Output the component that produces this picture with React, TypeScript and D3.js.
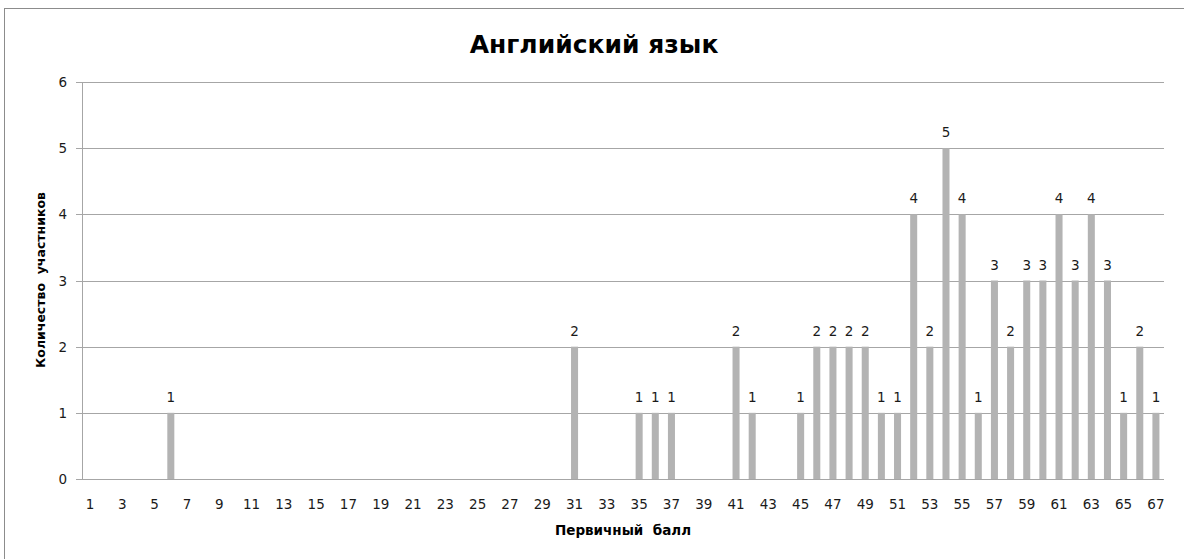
import React from "react";
import * as d3 from "d3";

const categories: number[] = d3.range(1, 68);
const scoreKeys: number[] = [6, 31, 35, 36, 37, 41, 42, 45, 46, 47, 48, 49, 50, 51, 52, 53, 54, 55, 56, 57, 58, 59, 60, 61, 62, 63, 64, 65, 66, 67];
const scoreCounts: number[] = [1, 2, 1, 1, 1, 2, 1, 1, 2, 2, 2, 2, 1, 1, 4, 2, 5, 4, 1, 3, 2, 3, 3, 4, 3, 4, 3, 1, 2, 1];
const yTicks: number[] = [0, 1, 2, 3, 4, 5, 6];
const title = "Английский язык";
const xTitle = "Первичный  балл";
const yTitle = "Количество  участников";

const W = 1184;
const H = 559;
const L = 82, R = 1164, T = 82, B = 479;
const font = "'DejaVu Sans', Verdana, sans-serif";

export default function App() {
  const countMap = new Map<number, number>();
  scoreKeys.forEach((k, i) => countMap.set(k, scoreCounts[i]));
  const data = categories.map((c) => ({ c, v: countMap.get(c) ?? 0 }));

  const x = d3.scaleBand<number>().domain(categories).range([L, R]).paddingInner(0.565).paddingOuter(0.2825);
  const y = d3.scaleLinear().domain([0, 6]).range([B, T]);

  return (
    <svg width={W} height={H} style={{ position: "absolute", left: 0, top: 0, background: "#fff" }}>
      <rect x={4.5} y={8.5} width={W + 20} height={H + 20} fill="#fff" stroke="#8c8c8c" strokeWidth={1} />
      <text x={594} y={53} textAnchor="middle" fontFamily={font} fontWeight="bold" fontSize={25} fill="#000">{title}</text>
      {yTicks.map((t) => (
        <g key={t}>
          <line x1={76} x2={R} y1={Math.round(y(t)) + 0.5} y2={Math.round(y(t)) + 0.5} stroke="#a6a6a6" strokeWidth={1} />
          <text x={67} y={y(t) + 5} textAnchor="end" fontFamily={font} fontSize={13.5} fill="#1a1a1a">{t}</text>
        </g>
      ))}
      <line x1={L + 0.5} x2={L + 0.5} y1={T} y2={B + 1} stroke="#a6a6a6" strokeWidth={1} />
      {data.filter((d) => d.v > 0).map((d) => (
        <g key={d.c}>
          <rect x={x(d.c)!} y={y(d.v)} width={x.bandwidth()} height={B - y(d.v)} fill="#b3b3b3" />
          <text x={x(d.c)! + x.bandwidth() / 2} y={y(d.v) - 11} textAnchor="middle" fontFamily={font} fontSize={13.5} fill="#1a1a1a">{d.v}</text>
        </g>
      ))}
      {categories.filter((c) => c % 2 === 1).map((c) => (
        <text key={c} x={x(c)! + x.bandwidth() / 2} y={509} textAnchor="middle" fontFamily={font} fontSize={13.5} fill="#1a1a1a">{c}</text>
      ))}
      <text x={(L + R) / 2} y={535} textAnchor="middle" fontFamily={font} fontWeight="bold" fontSize={13.5} fill="#000" style={{ whiteSpace: "pre" }}>{xTitle}</text>
      <text transform={`translate(45,${280}) rotate(-90)`} textAnchor="middle" fontFamily={font} fontWeight="bold" fontSize={12.5} fill="#000" style={{ whiteSpace: "pre" }}>{yTitle}</text>
    </svg>
  );
}
